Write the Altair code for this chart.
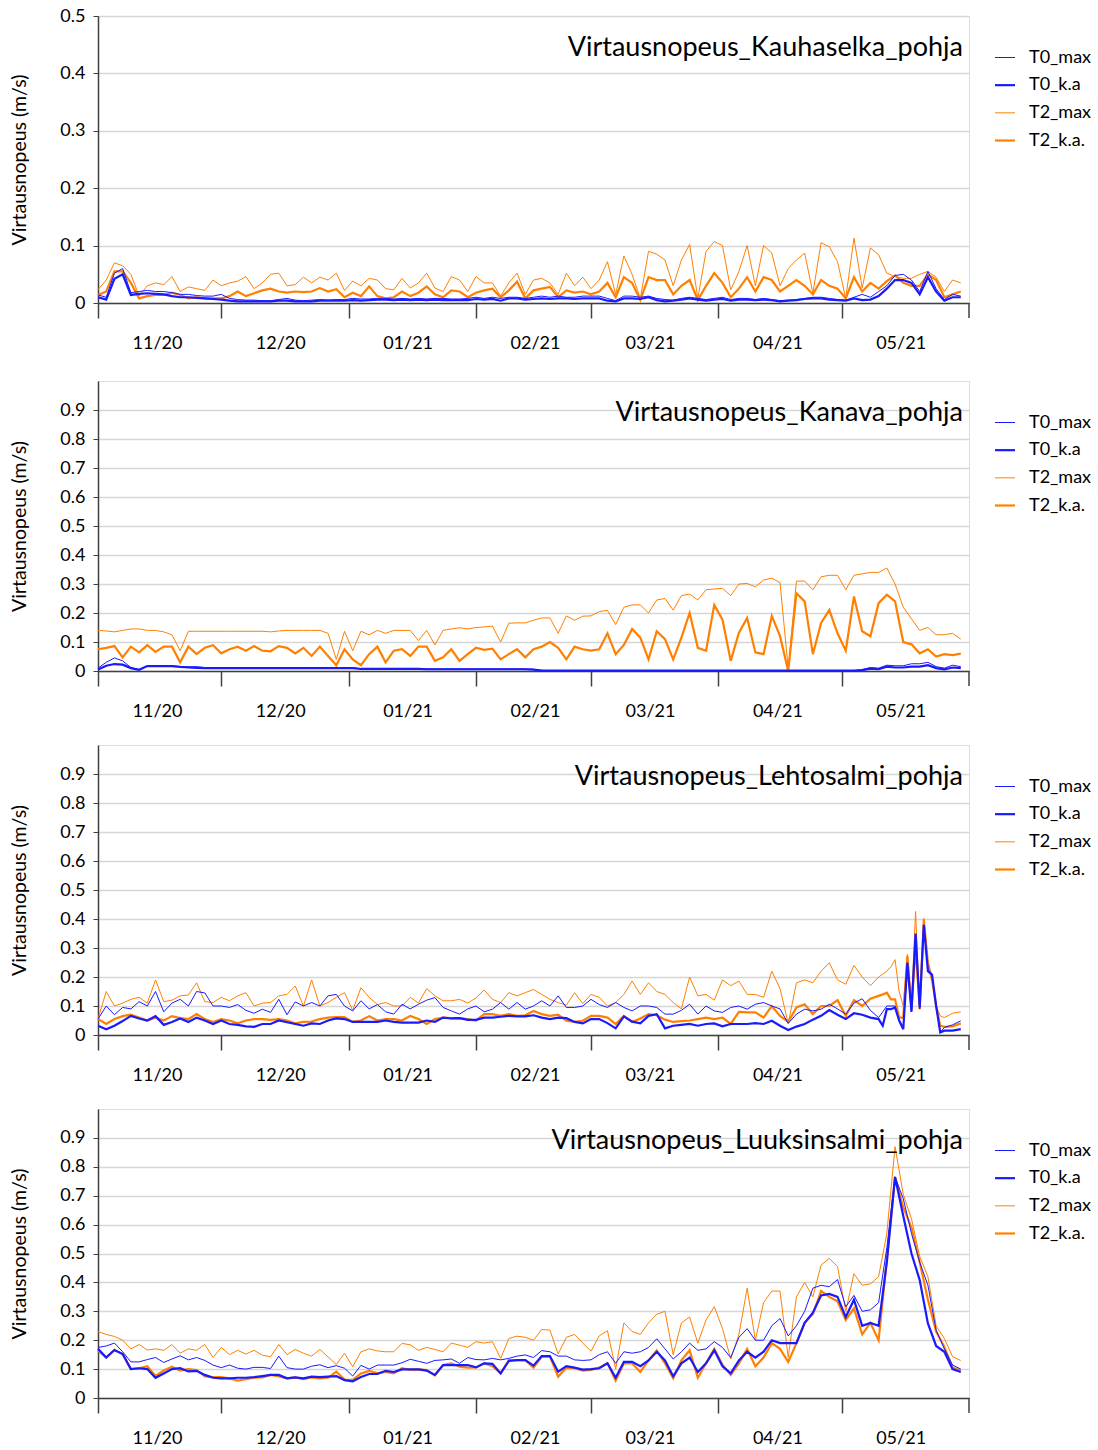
import altair as alt
import pandas as pd

# ---------------- data ----------------
SERIES = ["T0_max", "T0_k.a", "T2_max", "T2_k.a."]
START = "2020-11-01"
END = "2021-06-01"

# day offsets from 1 Nov 2020
days_std = list(range(0, 211, 2))                                   # 106 samples
days_leh = list(range(0, 191, 2)) + list(range(191, 207)) + [208, 210]  # 114 samples

# --- Kauhaselka ---
kau_T0_max = [0.014, 0.010, 0.052, 0.060, 0.018, 0.020, 0.022, 0.020, 0.020, 0.018,
              0.015, 0.015, 0.013, 0.012, 0.012, 0.015, 0.008, 0.006, 0.005, 0.005,
              0.004, 0.004, 0.006, 0.008, 0.005, 0.004, 0.005, 0.006, 0.005, 0.006,
              0.006, 0.008, 0.007, 0.007, 0.008, 0.008, 0.007, 0.008, 0.007, 0.008,
              0.007, 0.008, 0.008, 0.007, 0.007, 0.008, 0.010, 0.008, 0.010, 0.008,
              0.010, 0.010, 0.008, 0.010, 0.012, 0.010, 0.012, 0.010, 0.010, 0.012,
              0.012, 0.012, 0.008, 0.004, 0.012, 0.012, 0.010, 0.012, 0.008, 0.006,
              0.005, 0.008, 0.010, 0.008, 0.006, 0.008, 0.010, 0.006, 0.008, 0.008,
              0.006, 0.008, 0.006, 0.004, 0.005, 0.006, 0.008, 0.010, 0.010, 0.008,
              0.006, 0.005, 0.010, 0.015, 0.010, 0.020, 0.030, 0.048, 0.050, 0.040,
              0.020, 0.055, 0.025, 0.006, 0.015, 0.012]
kau_T0_ka = [0.010, 0.006, 0.042, 0.050, 0.014, 0.016, 0.017, 0.016, 0.015, 0.012,
             0.010, 0.010, 0.009, 0.008, 0.007, 0.006, 0.004, 0.003, 0.003, 0.003,
             0.003, 0.003, 0.004, 0.004, 0.003, 0.003, 0.003, 0.004, 0.004, 0.004,
             0.004, 0.005, 0.004, 0.005, 0.006, 0.006, 0.005, 0.006, 0.005, 0.006,
             0.005, 0.006, 0.005, 0.005, 0.005, 0.005, 0.007, 0.006, 0.007, 0.004,
             0.008, 0.008, 0.006, 0.007, 0.008, 0.007, 0.008, 0.008, 0.007, 0.008,
             0.008, 0.008, 0.004, 0.003, 0.008, 0.008, 0.007, 0.010, 0.005, 0.003,
             0.004, 0.006, 0.008, 0.006, 0.004, 0.006, 0.007, 0.004, 0.006, 0.006,
             0.005, 0.006, 0.005, 0.003, 0.004, 0.005, 0.007, 0.008, 0.008, 0.006,
             0.005, 0.004, 0.008, 0.005, 0.006, 0.012, 0.025, 0.040, 0.040, 0.035,
             0.015, 0.045, 0.020, 0.004, 0.010, 0.010]
kau_T2_max = [0.023, 0.040, 0.070, 0.065, 0.050, 0.012, 0.030, 0.035, 0.032, 0.046,
              0.020, 0.028, 0.025, 0.022, 0.040, 0.030, 0.035, 0.038, 0.046, 0.025,
              0.035, 0.050, 0.052, 0.030, 0.032, 0.045, 0.035, 0.045, 0.040, 0.052,
              0.022, 0.038, 0.030, 0.043, 0.040, 0.025, 0.023, 0.043, 0.026, 0.035,
              0.052, 0.026, 0.020, 0.046, 0.040, 0.020, 0.046, 0.035, 0.035, 0.012,
              0.035, 0.052, 0.015, 0.040, 0.043, 0.035, 0.015, 0.052, 0.030, 0.045,
              0.025, 0.040, 0.072, 0.015, 0.082, 0.050, 0.008, 0.090, 0.085, 0.075,
              0.030, 0.075, 0.102, 0.008, 0.090, 0.107, 0.100, 0.023, 0.055, 0.100,
              0.030, 0.100, 0.087, 0.030, 0.060, 0.075, 0.087, 0.017, 0.105, 0.098,
              0.072, 0.008, 0.113, 0.026, 0.096, 0.084, 0.052, 0.046, 0.043, 0.043,
              0.050, 0.055, 0.045, 0.020, 0.040, 0.035]
kau_T2_ka = [0.014, 0.020, 0.055, 0.055, 0.035, 0.008, 0.012, 0.014, 0.014, 0.018,
             0.014, 0.008, 0.010, 0.008, 0.008, 0.008, 0.012, 0.020, 0.012, 0.017,
             0.022, 0.025, 0.020, 0.018, 0.020, 0.019, 0.020, 0.026, 0.020, 0.024,
             0.010, 0.018, 0.012, 0.029, 0.012, 0.008, 0.010, 0.020, 0.012, 0.018,
             0.029, 0.015, 0.010, 0.022, 0.020, 0.010, 0.018, 0.022, 0.025, 0.010,
             0.022, 0.037, 0.008, 0.022, 0.025, 0.028, 0.010, 0.022, 0.018, 0.020,
             0.015, 0.020, 0.035, 0.010, 0.045, 0.035, 0.005, 0.045, 0.040, 0.040,
             0.015, 0.030, 0.040, 0.005, 0.030, 0.052, 0.035, 0.010, 0.025, 0.045,
             0.020, 0.045, 0.040, 0.020, 0.030, 0.040, 0.030, 0.015, 0.040, 0.030,
             0.025, 0.008, 0.045, 0.020, 0.035, 0.025, 0.038, 0.048, 0.035, 0.030,
             0.030, 0.050, 0.040, 0.010, 0.015, 0.020]

# --- Kanava ---
kan_T0_max = [0.010, 0.030, 0.045, 0.035, 0.012, 0.005, 0.018, 0.018, 0.018, 0.018,
              0.015, 0.015, 0.015, 0.012, 0.012, 0.012, 0.012, 0.012, 0.012, 0.012,
              0.012, 0.012, 0.012, 0.012, 0.012, 0.012, 0.012, 0.012, 0.012, 0.012,
              0.012, 0.012, 0.008, 0.008, 0.008, 0.008, 0.008, 0.008, 0.008, 0.008,
              0.007, 0.007, 0.007, 0.007, 0.007, 0.007, 0.007, 0.007, 0.007, 0.007,
              0.007, 0.007, 0.007, 0.006, 0.002, 0.001, 0.001, 0.001, 0.001, 0.001,
              0.001, 0.001, 0.001, 0.001, 0.001, 0.001, 0.001, 0.001, 0.001, 0.001,
              0.001, 0.001, 0.001, 0.001, 0.001, 0.001, 0.001, 0.001, 0.001, 0.001,
              0.001, 0.001, 0.001, 0.001, 0.001, 0.001, 0.001, 0.001, 0.001, 0.001,
              0.001, 0.001, 0.001, 0.005, 0.012, 0.010, 0.020, 0.018, 0.018, 0.025,
              0.025, 0.030, 0.015, 0.010, 0.020, 0.015]
kan_T0_ka = [0.005, 0.018, 0.024, 0.022, 0.010, 0.004, 0.017, 0.017, 0.017, 0.017,
             0.014, 0.012, 0.011, 0.010, 0.010, 0.010, 0.010, 0.010, 0.010, 0.010,
             0.010, 0.010, 0.010, 0.010, 0.010, 0.010, 0.010, 0.010, 0.010, 0.010,
             0.010, 0.010, 0.007, 0.007, 0.007, 0.007, 0.007, 0.007, 0.007, 0.007,
             0.006, 0.006, 0.006, 0.006, 0.006, 0.006, 0.006, 0.006, 0.006, 0.006,
             0.006, 0.006, 0.006, 0.005, 0.001, 0.001, 0.001, 0.001, 0.001, 0.001,
             0.001, 0.001, 0.001, 0.001, 0.001, 0.001, 0.001, 0.001, 0.001, 0.001,
             0.001, 0.001, 0.001, 0.001, 0.001, 0.001, 0.001, 0.001, 0.001, 0.001,
             0.001, 0.001, 0.001, 0.001, 0.001, 0.001, 0.001, 0.001, 0.001, 0.001,
             0.001, 0.001, 0.001, 0.003, 0.008, 0.006, 0.015, 0.012, 0.012, 0.015,
             0.015, 0.020, 0.010, 0.006, 0.012, 0.010]
kan_T2_max = [0.140, 0.138, 0.135, 0.140, 0.145, 0.145, 0.140, 0.140, 0.135, 0.125,
              0.070, 0.137, 0.137, 0.137, 0.137, 0.137, 0.137, 0.137, 0.137, 0.137,
              0.137, 0.135, 0.138, 0.140, 0.140, 0.140, 0.140, 0.140, 0.130, 0.040,
              0.137, 0.070, 0.137, 0.125, 0.140, 0.130, 0.140, 0.140, 0.140, 0.105,
              0.140, 0.090, 0.140, 0.145, 0.149, 0.145, 0.150, 0.152, 0.155, 0.100,
              0.165, 0.166, 0.166, 0.175, 0.183, 0.183, 0.130, 0.190, 0.175, 0.189,
              0.190, 0.205, 0.209, 0.160, 0.220, 0.228, 0.228, 0.200, 0.245, 0.250,
              0.210, 0.260, 0.265, 0.245, 0.280, 0.283, 0.285, 0.260, 0.300, 0.302,
              0.290, 0.314, 0.320, 0.305, 0.008, 0.310, 0.310, 0.280, 0.325, 0.330,
              0.330, 0.280, 0.330, 0.335, 0.340, 0.340, 0.355, 0.300, 0.220, 0.180,
              0.140, 0.150, 0.125, 0.125, 0.130, 0.110]
kan_T2_ka = [0.075, 0.080, 0.086, 0.047, 0.084, 0.064, 0.089, 0.066, 0.084, 0.084,
             0.030, 0.084, 0.058, 0.080, 0.089, 0.061, 0.075, 0.084, 0.070, 0.086,
             0.070, 0.068, 0.086, 0.080, 0.061, 0.080, 0.052, 0.084, 0.052, 0.020,
             0.075, 0.040, 0.020, 0.058, 0.084, 0.030, 0.070, 0.075, 0.052, 0.084,
             0.084, 0.035, 0.047, 0.075, 0.035, 0.058, 0.080, 0.073, 0.077, 0.040,
             0.058, 0.075, 0.047, 0.075, 0.084, 0.100, 0.080, 0.040, 0.084, 0.075,
             0.070, 0.075, 0.130, 0.058, 0.090, 0.145, 0.115, 0.040, 0.137, 0.110,
             0.040, 0.115, 0.200, 0.080, 0.070, 0.228, 0.177, 0.035, 0.132, 0.183,
             0.064, 0.058, 0.190, 0.120, 0.000, 0.268, 0.240, 0.058, 0.166, 0.210,
             0.130, 0.070, 0.257, 0.137, 0.120, 0.234, 0.263, 0.240, 0.100, 0.092,
             0.061, 0.075, 0.050, 0.058, 0.055, 0.060]

# --- Lehtosalmi (daily samples around the May spike) ---
leh_T0_max = [0.055, 0.100, 0.070, 0.095, 0.090, 0.115, 0.100, 0.150, 0.080, 0.110,
              0.123, 0.100, 0.150, 0.145, 0.100, 0.100, 0.095, 0.105, 0.085, 0.075,
              0.089, 0.078, 0.123, 0.070, 0.114, 0.100, 0.112, 0.100, 0.135, 0.140,
              0.100, 0.083, 0.118, 0.090, 0.105, 0.080, 0.072, 0.106, 0.090, 0.106,
              0.120, 0.129, 0.095, 0.083, 0.072, 0.090, 0.100, 0.080, 0.089, 0.112,
              0.089, 0.112, 0.089, 0.100, 0.118, 0.100, 0.135, 0.095, 0.095, 0.100,
              0.123, 0.105, 0.095, 0.112, 0.095, 0.083, 0.100, 0.100, 0.095, 0.072,
              0.072, 0.085, 0.106, 0.072, 0.100, 0.083, 0.078, 0.095, 0.100, 0.089,
              0.106, 0.112, 0.100, 0.090, 0.040, 0.072, 0.089, 0.083, 0.089, 0.106,
              0.090, 0.072, 0.110, 0.125, 0.085, 0.060,
              0.080, 0.100, 0.100, 0.100, 0.050, 0.026, 0.249, 0.080, 0.346, 0.090,
              0.375, 0.226, 0.210, 0.100, 0.009, 0.026,
              0.035, 0.049]
leh_T0_ka = [0.032, 0.020, 0.032, 0.048, 0.066, 0.057, 0.050, 0.065, 0.035, 0.045,
             0.057, 0.045, 0.060, 0.050, 0.038, 0.050, 0.038, 0.035, 0.030, 0.028,
             0.038, 0.038, 0.050, 0.044, 0.038, 0.032, 0.040, 0.038, 0.050, 0.057,
             0.055, 0.045, 0.045, 0.045, 0.045, 0.050, 0.045, 0.043, 0.043, 0.043,
             0.050, 0.045, 0.060, 0.057, 0.058, 0.052, 0.052, 0.060, 0.060, 0.063,
             0.066, 0.064, 0.064, 0.068, 0.060, 0.055, 0.060, 0.058, 0.045, 0.040,
             0.055, 0.055, 0.041, 0.023, 0.064, 0.046, 0.040, 0.066, 0.072, 0.023,
             0.032, 0.035, 0.038, 0.032, 0.038, 0.040, 0.030, 0.038, 0.038, 0.038,
             0.041, 0.038, 0.049, 0.032, 0.017, 0.029, 0.038, 0.053, 0.066, 0.086,
             0.070, 0.055, 0.075, 0.070, 0.060, 0.055,
             0.032, 0.089, 0.089, 0.095, 0.050, 0.020, 0.249, 0.080, 0.350, 0.095,
             0.380, 0.220, 0.208, 0.100, 0.009, 0.015,
             0.015, 0.020]
leh_T2_max = [0.055, 0.150, 0.100, 0.110, 0.123, 0.130, 0.110, 0.190, 0.115, 0.120,
              0.135, 0.138, 0.180, 0.115, 0.112, 0.130, 0.118, 0.135, 0.146, 0.100,
              0.110, 0.112, 0.135, 0.140, 0.169, 0.100, 0.190, 0.100, 0.112, 0.130,
              0.146, 0.085, 0.163, 0.130, 0.105, 0.112, 0.100, 0.100, 0.130, 0.110,
              0.160, 0.135, 0.118, 0.118, 0.123, 0.110, 0.128, 0.155, 0.123, 0.112,
              0.146, 0.135, 0.146, 0.157, 0.140, 0.123, 0.112, 0.103, 0.146, 0.108,
              0.140, 0.130, 0.100, 0.112, 0.140, 0.186, 0.140, 0.180, 0.150, 0.140,
              0.112, 0.090, 0.200, 0.135, 0.140, 0.120, 0.190, 0.170, 0.186, 0.140,
              0.140, 0.130, 0.220, 0.160, 0.040, 0.180, 0.190, 0.180, 0.220, 0.249,
              0.190, 0.175, 0.240, 0.200, 0.170, 0.200,
              0.210, 0.220, 0.235, 0.260, 0.150, 0.100, 0.278, 0.110, 0.426, 0.090,
              0.403, 0.250, 0.200, 0.100, 0.066, 0.060,
              0.075, 0.080]
leh_T2_ka = [0.055, 0.038, 0.055, 0.065, 0.070, 0.060, 0.050, 0.060, 0.050, 0.065,
             0.058, 0.055, 0.072, 0.055, 0.045, 0.055, 0.050, 0.040, 0.050, 0.055,
             0.055, 0.052, 0.055, 0.050, 0.040, 0.045, 0.046, 0.055, 0.060, 0.062,
             0.062, 0.045, 0.050, 0.065, 0.050, 0.055, 0.055, 0.050, 0.066, 0.055,
             0.038, 0.055, 0.060, 0.058, 0.058, 0.055, 0.050, 0.072, 0.072, 0.066,
             0.072, 0.066, 0.068, 0.083, 0.072, 0.066, 0.070, 0.049, 0.045, 0.049,
             0.066, 0.066, 0.060, 0.038, 0.066, 0.045, 0.057, 0.072, 0.068, 0.053,
             0.045, 0.048, 0.050, 0.055, 0.060, 0.055, 0.060, 0.038, 0.080, 0.078,
             0.078, 0.060, 0.100, 0.066, 0.045, 0.095, 0.106, 0.072, 0.100, 0.100,
             0.120, 0.066, 0.120, 0.100, 0.125, 0.135,
             0.140, 0.146, 0.123, 0.123, 0.060, 0.060, 0.272, 0.090, 0.306, 0.089,
             0.398, 0.249, 0.190, 0.100, 0.032, 0.028,
             0.030, 0.040]

# --- Luuksinsalmi ---
luu_T0_max = [0.175, 0.180, 0.190, 0.160, 0.125, 0.125, 0.133, 0.140, 0.123, 0.135,
              0.146, 0.132, 0.140, 0.130, 0.114, 0.105, 0.114, 0.103, 0.100, 0.106,
              0.106, 0.102, 0.145, 0.105, 0.100, 0.100, 0.110, 0.115, 0.105, 0.112,
              0.103, 0.076, 0.113, 0.100, 0.114, 0.114, 0.114, 0.122, 0.134, 0.127,
              0.120, 0.130, 0.132, 0.135, 0.120, 0.140, 0.133, 0.132, 0.137, 0.132,
              0.137, 0.145, 0.149, 0.140, 0.164, 0.160, 0.145, 0.145, 0.132, 0.130,
              0.132, 0.150, 0.160, 0.120, 0.160, 0.155, 0.160, 0.175, 0.205, 0.170,
              0.135, 0.160, 0.190, 0.165, 0.170, 0.195, 0.175, 0.140, 0.210, 0.240,
              0.200, 0.200, 0.250, 0.275, 0.215, 0.250, 0.300, 0.380, 0.390, 0.385,
              0.410, 0.316, 0.355, 0.300, 0.305, 0.330, 0.520, 0.765, 0.690, 0.569,
              0.470, 0.390, 0.235, 0.170, 0.114, 0.100]
luu_T0_ka = [0.170, 0.140, 0.166, 0.152, 0.100, 0.103, 0.100, 0.070, 0.085, 0.100,
             0.103, 0.092, 0.094, 0.080, 0.070, 0.068, 0.068, 0.070, 0.070, 0.072,
             0.076, 0.080, 0.080, 0.068, 0.071, 0.068, 0.074, 0.072, 0.074, 0.076,
             0.062, 0.058, 0.073, 0.083, 0.083, 0.094, 0.090, 0.099, 0.099, 0.099,
             0.095, 0.080, 0.114, 0.114, 0.114, 0.114, 0.106, 0.120, 0.118, 0.085,
             0.128, 0.131, 0.131, 0.112, 0.145, 0.145, 0.091, 0.110, 0.105, 0.098,
             0.100, 0.103, 0.120, 0.070, 0.125, 0.125, 0.110, 0.130, 0.160, 0.130,
             0.075, 0.120, 0.140, 0.090, 0.120, 0.165, 0.110, 0.085, 0.130, 0.160,
             0.140, 0.160, 0.200, 0.190, 0.190, 0.190, 0.260, 0.295, 0.355, 0.360,
             0.350, 0.280, 0.340, 0.250, 0.260, 0.250, 0.470, 0.765, 0.630, 0.500,
             0.408, 0.258, 0.180, 0.160, 0.100, 0.090]
luu_T2_max = [0.230, 0.220, 0.213, 0.200, 0.170, 0.185, 0.166, 0.170, 0.165, 0.185,
              0.155, 0.170, 0.165, 0.185, 0.140, 0.175, 0.150, 0.165, 0.152, 0.165,
              0.148, 0.143, 0.185, 0.150, 0.168, 0.155, 0.145, 0.168, 0.142, 0.116,
              0.155, 0.108, 0.160, 0.170, 0.163, 0.160, 0.160, 0.189, 0.184, 0.165,
              0.175, 0.168, 0.160, 0.190, 0.183, 0.175, 0.195, 0.190, 0.195, 0.137,
              0.206, 0.214, 0.210, 0.200, 0.237, 0.235, 0.152, 0.210, 0.220, 0.190,
              0.162, 0.215, 0.233, 0.100, 0.260, 0.230, 0.220, 0.260, 0.290, 0.300,
              0.150, 0.260, 0.280, 0.190, 0.270, 0.316, 0.240, 0.135, 0.220, 0.380,
              0.200, 0.330, 0.370, 0.370, 0.140, 0.350, 0.400, 0.350, 0.460, 0.483,
              0.455, 0.300, 0.430, 0.390, 0.395, 0.420, 0.570, 0.870, 0.705, 0.620,
              0.490, 0.420, 0.250, 0.206, 0.143, 0.130]
luu_T2_ka = [0.165, 0.140, 0.166, 0.152, 0.100, 0.103, 0.110, 0.076, 0.095, 0.108,
             0.095, 0.100, 0.097, 0.075, 0.072, 0.072, 0.068, 0.060, 0.065, 0.070,
             0.071, 0.080, 0.075, 0.068, 0.071, 0.065, 0.071, 0.068, 0.070, 0.091,
             0.064, 0.063, 0.085, 0.094, 0.086, 0.090, 0.085, 0.103, 0.097, 0.099,
             0.097, 0.078, 0.114, 0.120, 0.108, 0.105, 0.106, 0.120, 0.110, 0.085,
             0.131, 0.131, 0.131, 0.105, 0.143, 0.143, 0.074, 0.105, 0.103, 0.095,
             0.097, 0.105, 0.120, 0.060, 0.120, 0.120, 0.090, 0.130, 0.165, 0.120,
             0.068, 0.130, 0.165, 0.070, 0.120, 0.170, 0.115, 0.080, 0.120, 0.170,
             0.110, 0.140, 0.190, 0.170, 0.125, 0.190, 0.260, 0.290, 0.370, 0.350,
             0.335, 0.270, 0.310, 0.220, 0.260, 0.200, 0.480, 0.765, 0.660, 0.590,
             0.470, 0.340, 0.230, 0.177, 0.105, 0.095]

PANELS = [
    ("Virtausnopeus_Kauhaselka_pohja", days_std, [kau_T0_max, kau_T0_ka, kau_T2_max, kau_T2_ka], 0.5, 287),
    ("Virtausnopeus_Kanava_pohja", days_std, [kan_T0_max, kan_T0_ka, kan_T2_max, kan_T2_ka], 1.0, 290),
    ("Virtausnopeus_Lehtosalmi_pohja", days_leh, [leh_T0_max, leh_T0_ka, leh_T2_max, leh_T2_ka], 1.0, 290),
    ("Virtausnopeus_Luuksinsalmi_pohja", days_std, [luu_T0_max, luu_T0_ka, luu_T2_max, luu_T2_ka], 1.0, 289),
]

# ---------------- styling ----------------
COLORS = ["#1a1aff", "#1a1aff", "#ff8000", "#ff8000"]
WIDTHS = [1.0, 2.2, 1.0, 2.2]
DRAW_ORDER = ["T2_max", "T2_k.a.", "T0_max", "T0_k.a"]
FONT = "Lato"
AXIS_COLOR = "#404040"
W = 871

color_enc = alt.Color("series:N", scale=alt.Scale(domain=SERIES, range=COLORS), legend=None)
width_enc = alt.StrokeWidth("series:N", scale=alt.Scale(type="ordinal", domain=SERIES, range=WIDTHS),
                            legend=None)

# month boundaries Nov..May carry labels; the closing 1 June tick is drawn as a rule
month_ticks = [alt.DateTime(year=2020, month=m, date=1, utc=True) for m in (11, 12)] + \
              [alt.DateTime(year=2021, month=m, date=1, utc=True) for m in range(1, 6)]


def make_panel(title, days, vals, ymax, h):
    dates = (pd.Timestamp(START) + pd.to_timedelta(days, unit="D")).strftime("%Y-%m-%d")
    rows = []
    for s, v in zip(SERIES, vals):
        if len(v) != len(days):
            raise ValueError(f"{title} {s}: {len(v)} values for {len(days)} days")
        rows += [{"date": d, "value": x, "series": s} for d, x in zip(dates, v)]
    df = pd.DataFrame(rows)

    xscale = alt.Scale(type="utc",
                       domain=[alt.DateTime(year=2020, month=11, date=1, utc=True),
                               alt.DateTime(year=2021, month=6, date=1, utc=True)])
    yvals = [round(0.1 * i, 1) for i in range(0, 6 if ymax == 0.5 else 10)]
    base = alt.Chart(df).encode(
        x=alt.X("date:T", scale=xscale,
                axis=alt.Axis(values=month_ticks, title=None, grid=False,
                              labelExpr="utcFormat(datum.value, '%m/%y')",
                              tickSize=15, labelOffset=59, labelPadding=16, labelFlush=False,
                              labelOverlap=False, labelFontSize=18, labelFont=FONT, labelColor="#000",
                              domainColor=AXIS_COLOR, tickColor=AXIS_COLOR, domainWidth=1.5,
                              tickWidth=1.5)),
        y=alt.Y("value:Q",
                scale=alt.Scale(domain=[0, ymax], nice=False, zero=True),
                axis=alt.Axis(values=yvals, title="Virtausnopeus (m/s)",
                              labelExpr="datum.value == 0 ? '0' : format(datum.value, '.1f')",
                              grid=True, gridColor="#d6d6d6", gridWidth=1.5, tickSize=5,
                              labelPadding=8, labelFontSize=18, labelFont=FONT, labelColor="#000",
                              titleFontSize=19.5, titleFont=FONT, titleFontWeight="normal",
                              titleColor="#000", titlePadding=30,
                              domainColor=AXIS_COLOR, tickColor=AXIS_COLOR, domainWidth=1.5)),
        color=color_enc,
        strokeWidth=width_enc,
    )
    lines = [base.transform_filter(alt.datum.series == s).mark_line() for s in DRAW_ORDER]

    end_tick = alt.Chart(pd.DataFrame({"date": [END]})).mark_rule(
        color=AXIS_COLOR, strokeWidth=1.5
    ).encode(x=alt.X("date:T", scale=xscale), y=alt.value(h), y2=alt.value(h + 15))

    label = alt.Chart(pd.DataFrame({"t": [title]})).mark_text(
        align="right", baseline="middle", fontSize=27, font=FONT, color="#000"
    ).encode(x=alt.value(W - 6), y=alt.value(32), text="t:N")

    plot = alt.layer(*lines, end_tick, label)

    # legend drawn to the right of the plot area
    ldf = pd.DataFrame({"series": SERIES})
    ly = alt.Y("series:N", axis=None,
               scale=alt.Scale(type="point", domain=SERIES, range=[41.5, 124.5], padding=0))
    leg_sym = alt.Chart(ldf).mark_rule().encode(
        y=ly, x=alt.value(W + 26), x2=alt.value(W + 46), color=color_enc, strokeWidth=width_enc)
    leg_txt = alt.Chart(ldf).mark_text(align="left", baseline="middle", fontSize=18, font=FONT,
                                       color="#000").encode(y=ly, x=alt.value(W + 60),
                                                            text="series:N")
    legend = alt.layer(leg_sym, leg_txt)
    return alt.layer(plot, legend).resolve_scale(y="independent").properties(width=W, height=h)


p = [make_panel(*q) for q in PANELS]
chart = alt.vconcat(p[0], alt.vconcat(p[1], p[2], p[3], spacing=23), spacing=27).configure_view(
    stroke="#8a8a8a", strokeWidth=1.5
).configure(
    font=FONT, padding={"left": 9, "top": 6, "right": 0, "bottom": 0}, background="white"
)

chart.save("out.html", embed_options={"renderer": "svg", "actions": False})
